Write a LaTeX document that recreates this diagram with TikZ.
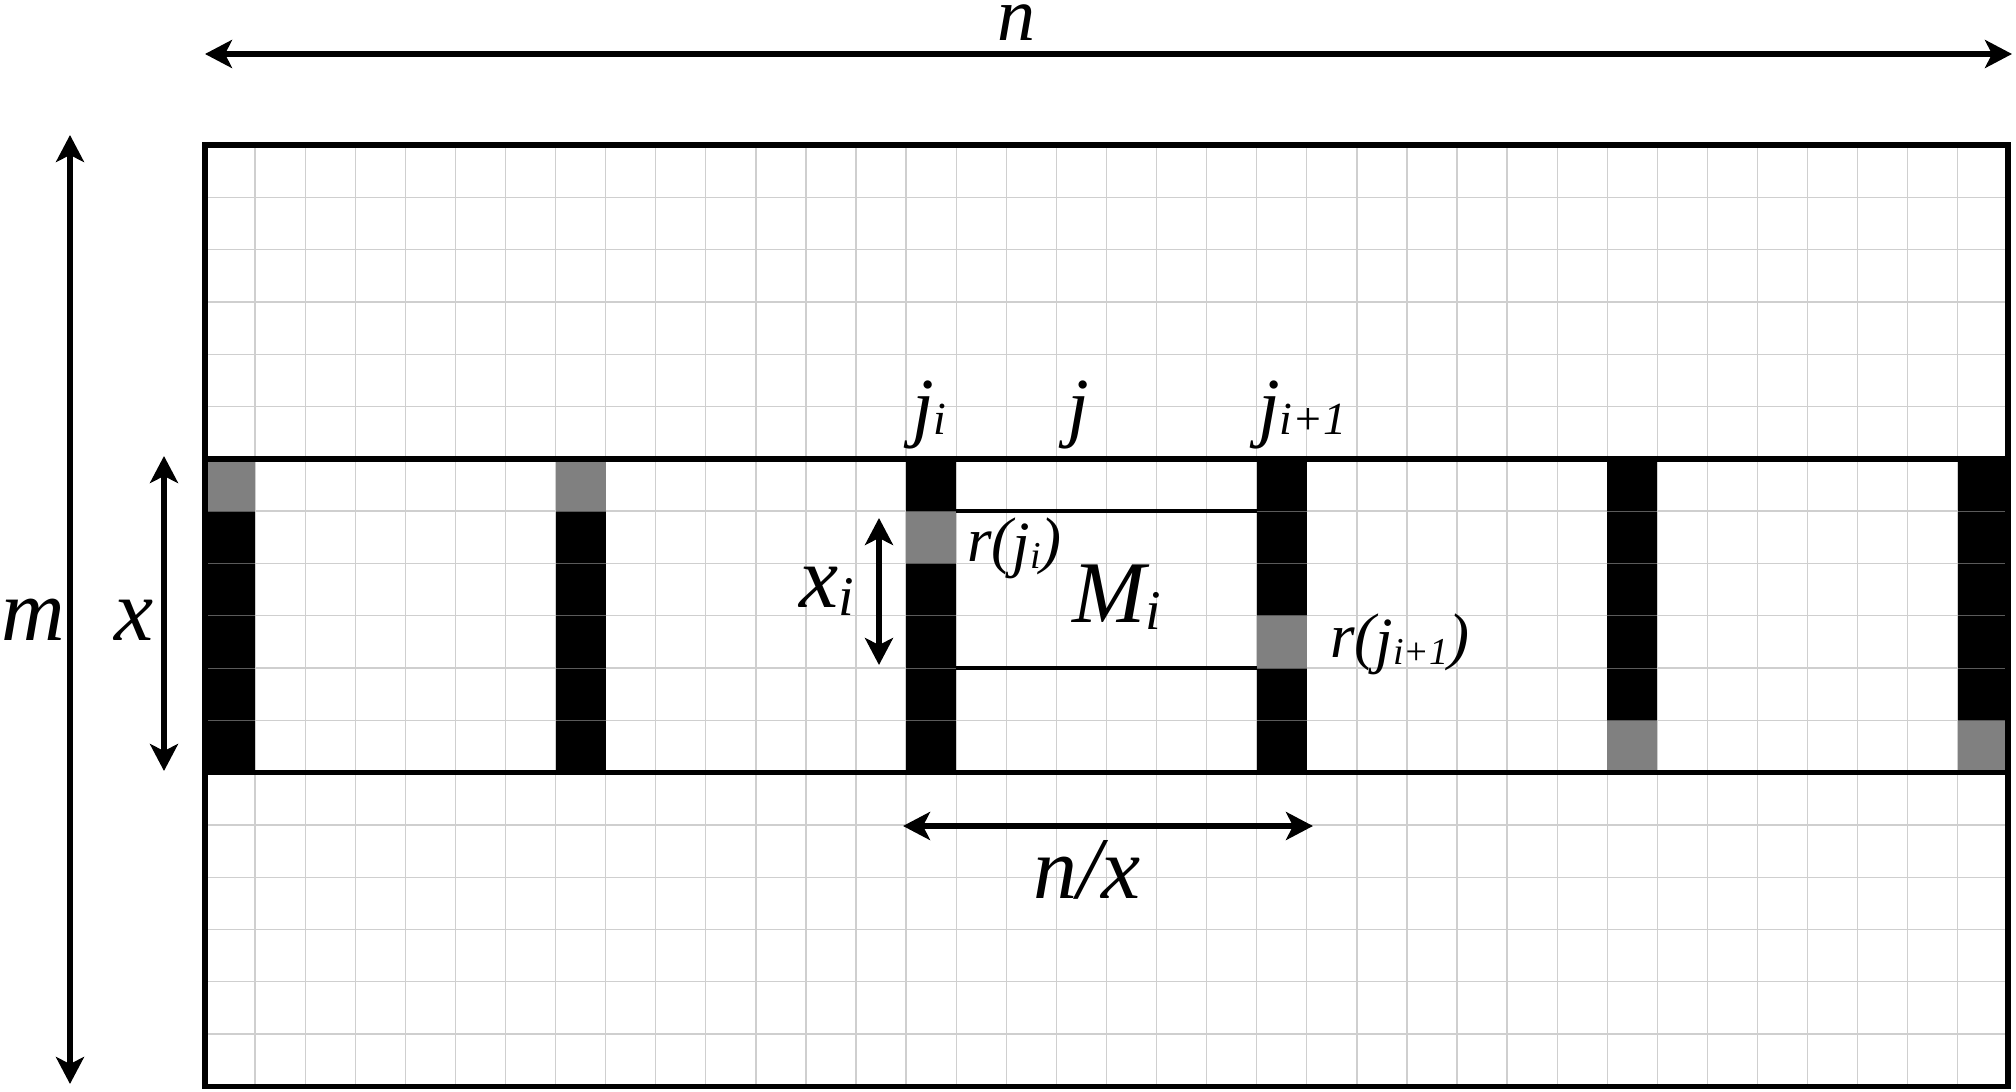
\documentclass[tikz,border=0pt]{standalone}
\usepackage{fontspec}
\setmainfont{Liberation Serif}[ItalicFont={Liberation Serif Italic}]
\usetikzlibrary{arrows.meta}
\definecolor{gridgray}{HTML}{CFCFCF}
\definecolor{cellgray}{HTML}{808080}
\definecolor{sepgray}{HTML}{5A5A5A}
\newcommand\lowsub[3]{\raisebox{-#1pt}{\fontsize{#2}{#2}\selectfont #3}}
\begin{document}
\begin{tikzpicture}[x=1pt,y=-1pt,
  dimarrow/.style={line width=5.5pt,
    {Stealth[length=27pt,width=28pt,inset=7pt]}-{Stealth[length=27pt,width=28pt,inset=7pt]}},
  biglbl/.style={inner sep=0pt,anchor=base west,font=\fontsize{88}{96}\selectfont\itshape},
  jlbl/.style={inner sep=0pt,anchor=base west,font=\fontsize{78}{86}\selectfont\itshape},
  rlbl/.style={inner sep=0pt,anchor=base west,font=\fontsize{63}{70}\selectfont\itshape},
  gridline/.style={draw=gridgray,line width=1.3pt},
  sepline/.style={draw=sepgray,line width=1pt},
  heavy/.style={draw=black,line width=5.5pt},
  midline/.style={draw=black,line width=4.5pt}]
\useasboundingbox (0,0) rectangle (2016,1092);
\fill[white] (0,0) rectangle (2016,1092);

\begin{scope}[x=50.08pt,y=-52.3pt,shift={(205pt,-145pt)}]
  % light grid
  \foreach \c in {1,...,35} \draw[gridline] (\c,0) -- (\c,18);
  \foreach \r in {1,...,17} \draw[gridline] (0,\r) -- (36,\r);
  % middle lines of M_i
  \draw[midline] (14.5,7) -- (21.5,7);
  \draw[midline] (14.5,10) -- (21.5,10);
  % black columns with one gray cell each
  \foreach \c/\g in {0/6,7/6,14/7,21/9,28/11,35/11} {
    \fill[black] (\c,6) rectangle ({\c+1},12);
    \fill[cellgray] (\c,\g) rectangle ({\c+1},{\g+1});
    \foreach \r in {7,...,11} \draw[sepline] (\c,\r) -- ({\c+1},\r);
  }
  % heavy lines
  \draw[heavy] (0,0) rectangle (36,18);
  \draw[heavy] (0,6) -- (36,6);
  \draw[heavy] (0,12) -- (36,12);
\end{scope}

% arrow end points
\coordinate (nL) at (205,54);
\coordinate (nR) at (2012,54);
\coordinate (mT) at (70,135);
\coordinate (mB) at (70,1084);
\coordinate (xT) at (164,456);
\coordinate (xB) at (164,771);
\coordinate (xiT) at (879,518);
\coordinate (xiB) at (879,665);
\coordinate (nxL) at (903,826);
\coordinate (nxR) at (1313,826);

\draw[dimarrow] (nL) -- (nR);
\draw[dimarrow] (mT) -- (mB);
\draw[dimarrow] (xT) -- (xB);
\draw[dimarrow] (xiT) -- (xiB);
\draw[dimarrow] (nxL) -- (nxR);

% labels
\node[biglbl,font=\fontsize{76}{84}\selectfont\itshape,text height=35pt] (ln) at (997,40) {n};
\node[biglbl] (lm) at (1,640) {m};
\node[biglbl] (lx) at (114,640) {x};
\node[biglbl] (lnx) at (1033,898) {n/x};
\node[biglbl] (lxi) at (799,607) {x\lowsub{8}{56}{i}};
\node[biglbl] (lMi) at (1072,622) {M\lowsub{7}{56}{i}};
\node[jlbl] (lji) at (912,432) {j\lowsub{2}{46}{i}};
\node[jlbl] (lj) at (1067,432) {j};
\node[jlbl] (ljn) at (1258,432) {j\lowsub{2}{46}{i+1}};
\node[rlbl] (lr1) at (967,561) {r(\lowsub{4}{63}{j\lowsub{3}{38}{i}})};
\node[rlbl] (lr2) at (1330,657) {r(\lowsub{4}{63}{j\lowsub{3}{38}{i+1}})};
\end{tikzpicture}
\end{document}
